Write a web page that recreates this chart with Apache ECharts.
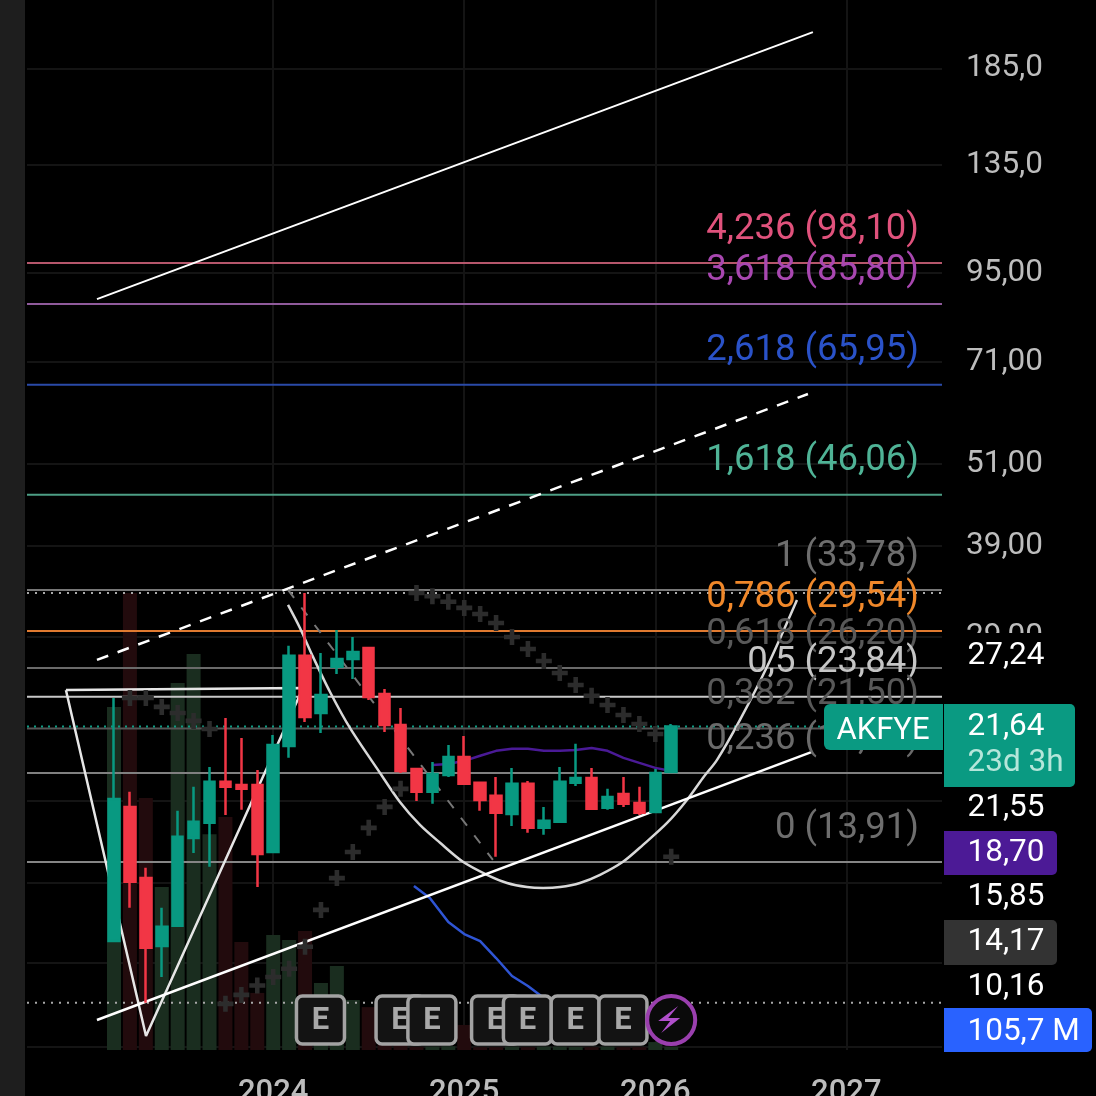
<!DOCTYPE html>
<html>
<head>
<meta charset="utf-8">
<style>html,body{margin:0;padding:0;background:#000;overflow:hidden}#c{width:1096px;height:1096px}</style>
<script src="https://cdn.jsdelivr.net/npm/echarts@6/dist/echarts.min.js"></script>
</head>
<body>
<div id="c"></div>
<script>
// Month index 0 = March 2023. Each row: open, close, low, high
const candles = [
[10.75,17.09,10.75,23.75],[16.65,13.04,11.98,17.5],[13.2,10.52,8.79,13.65],[10.58,11.26,9.56,11.98],
[11.3,15.1,11.3,16.44],[15.05,15.86,14.33,17.78],[15.81,18.07,13.7,18.97],[18.07,17.78,16.22,22.25],
[17.89,17.66,16.49,20.85],[17.89,14.28,12.82,18.78],[14.37,20.38,14.37,21.05],[20.31,27.25,19.54,28.15],
[27.25,22.32,21.97,33.45],[22.62,23.98,21.19,27.51],[26.29,26.98,25.69,29.65],[26.98,27.6,25.27,28.98],
[27.96,23.83,23.6,28.05],[24.07,21.75,21.26,24.46],[21.75,18.72,18.6,22.99],[18.84,17.49,16.98,18.84],
[17.49,18.54,16.82,19.28],[18.48,19.6,18.36,20.38],[19.6,17.95,17.95,20.98],[18.01,17.03,16.44,18.01],
[17.26,16.33,14.15,18.36],[16.27,17.95,15.65,18.91],[17.95,15.55,15.31,18.12],[15.55,15.91,15.2,16.65],
[15.86,18.07,15.86,18.97],[18.01,18.3,17.83,20.45],[18.3,16.55,16.55,18.91],[16.6,17.2,16.49,17.66],
[17.37,16.82,16.65,18.36],[16.87,16.33,16.22,17.78],[16.38,18.6,16.38,18.84],[18.66,21.64,18.66,21.82]
];
const volumes = [12080,16090,8870,5740,12920,13940,7600,8200,3800,2010,4050,3870,4190,2360,2960,1760,1510,460,350,110,120,130,880,100,100,120,100,120,120,110,100,120,100,100,280,105.7];
const volumeMA = [[18.84,5773],[19.84,5350],[21,4506],[22,4083],[23,3837],[24,3238],[25,2605],[26,2253],[27,1830]];
const sarA = [[1,23.75],[2,23.75],[3,23.07],[4,22.62],[5,22.04],[6,21.47]];
const sarB = [[7,8.76],[8,9.02],[9,9.3],[10,9.56],[11,9.82],[12,10.55],[13,11.9],[14,13.2],[15,14.37],[16,15.55],[17,16.65],[18,17.66]];
const sarC = [[19,33.45],[20,33.1],[21,32.5],[22,31.86],[23,31.24],[24,30.33],[25,28.98],[26,27.87],[27,26.8],[28,25.77],[29,24.78],[30,23.92],[31,23.21],[32,22.47],[33,21.82],[34,21.12],[35,14.15]];
const maLine = [[20,19.09],[21,19.15],[22,19.35],[23,19.67],[24,19.99],[25,20.12],[26,20.12],[27,19.99],[28,19.99],[29,20.05],[30,20.18],[31,19.99],[32,19.54],[33,19.22],[34,18.91],[35,18.72]];
const cupCurve = [[10.93,32.17],[11.68,29.84],[12.5,27.16],[13.57,24.22],[14.82,21.54],[16.71,18.6],[17.96,16.92],[19.22,15.7],[20.48,14.81],[21.92,13.92],[23.43,13.34],[24.69,12.99],[25.94,12.82],[26.95,12.78],[28.02,12.82],[29.27,12.99],[30.53,13.34],[31.97,13.92],[33.23,14.71],[34.74,15.8],[35.99,17.03],[36.99,18.3],[37.88,19.41],[39.32,22.11],[41.02,26.29],[42.9,32.7]];
const patternV = [[-3.02,24.38],[2.01,7.89],[11.87,24.54],[-3.02,24.38]];
const channelTop = [[-1.07,87.2],[43.9,208.3]];
const channelMid = [[-1.07,26.89],[43.59,64.0]];
const channelLow = [[-1.07,8.31],[43.84,19.92]];
const fibTrend = [[10.93,33.78],[23.8,14.01]];
const fibLevels = [
 ['4,236',98.10,'98,10','#e0527c','#b5566b'],
 ['3,618',85.80,'85,80','#a847b0','#8f5a9b'],
 ['2,618',65.95,'65,95','#2a52c8','#2a4aa8'],
 ['1,618',46.06,'46,06','#4fb396','#4c9e85'],
 ['1',33.78,'33,78','#6e6e6e','#777777'],
 ['0,786',29.54,'29,54','#f0882a','#e07a30'],
 ['0,618',26.20,'26,20','#585858','#6a6a6a'],
 ['0,5',23.84,'23,84','#c6c6c6','#c8c8c8'],
 ['0,382',21.50,'21,50','#585858','#555555'],
 ['0,236',18.60,'18,60','#6a6a6a','#808080'],
 ['0',13.91,'13,91','#6e6e6e','#858585']
];
const highLow = [33.45,8.79];
const lastPrice = 21.64;
const earningsMonths = [13,18,20,24,26,29,32];
const dividendMonths = [35];
const yearTicks = [10,22,34,46];
const yearLabels = {10:'2024',22:'2025',34:'2026',46:'2027'};
const priceTicks = [185,135,95,71,51,39,29];
const priceTickLabels = {185:'185,0',135:'135,0',95:'95,00',71:'71,00',51:'51,00',39:'39,00',29:'29,00'};
const faintGrid = [185,135,95,71,51,39,29,17,13,10.02,7.62];

const xMin = -5.465, xMax = 52.01;
const F = 'Roboto, sans-serif';

function line(data, color, width, extra) {
  return Object.assign({type:'line', data, symbol:'none', silent:true, animation:false, z:3,
    lineStyle:{color, width}}, extra || {});
}
function hline(v, color, width, type) {
  const s = line([[xMin,v],[xMax,v]], color, width, {z:2});
  if (type) s.lineStyle.type = type;
  return s;
}
const plusPath = 'path://M5 0h4v5h5v4H9v5H5V9H0V5h5z';
function crosses(data){
  return {type:'scatter', data, symbol:plusPath, symbolSize:16, silent:true, animation:false, z:3,
    itemStyle:{color:'#2c2c2c', opacity:1}};
}

function tag(x,y,w,h,fill,r){
  return {type:'rect', z:100, shape:{x,y,width:w,height:h,r}, style:{fill}};
}
function txt(text,x,y,fill,size,align){
  return {type:'text', z:101, style:{text,x,y,fill,font:'400 '+(size||31.5)+'px '+F,align:align||'left',verticalAlign:'middle'}};
}

const option = {
  backgroundColor:'#000',
  animation:false,
  grid:{left:27, top:0, width:915, height:1050, containLabel:false, outerBoundsMode:'none'},
  xAxis:{type:'value', min:xMin, max:xMax,
    axisLine:{show:false},
    axisTick:{show:false, customValues:yearTicks},
    splitLine:{show:true, lineStyle:{color:'#141414', width:2}},
    axisLabel:{customValues:yearTicks, color:'#bcbcbc', fontFamily:F, fontSize:31, fontWeight:500, margin:28,
      verticalAlign:'top', formatter:v=>yearLabels[v]||''}
  },
  yAxis:[
    {type:'log', logBase:10, min:7.536, max:231.3, position:'right',
     axisLine:{show:false},
     axisTick:{show:false, customValues:faintGrid},
     splitLine:{show:true, lineStyle:{color:'#141414', width:2}},
     minorSplitLine:{show:false},
     axisLabel:{customValues:priceTicks, color:'#bdbdbd', fontFamily:F, fontSize:31.5, margin:24, align:'left',
       verticalAlign:'middle', padding:[2,0,0,0], formatter:v=>priceTickLabels[v]||''}
    },
    {type:'value', min:0, max:36972, show:false, splitLine:{show:false}}
  ],
  graphic:[
    {type:'rect', z:100, shape:{x:0,y:0,width:25,height:1096}, style:{fill:'#1e1e1e'}},
    tag(945,633,151,44,'#000',0),
    txt('27,24',967.5,656,'#ffffff'),
    tag(824,704,119,46,'#0a9a82',[6,0,0,6]),
    txt('AKFYE',883,731,'#ffffff',31,'center'),
    tag(944,704,131,83,'#0a9a82',[0,5,5,0]),
    txt('21,64',967.5,727,'#ffffff'),
    txt('23d 3h',967.5,763,'#b5e6da'),
    txt('21,55',967.5,808,'#ffffff'),
    tag(944,831,113,44,'#4c1a96',[0,5,5,0]),
    txt('18,70',967.5,853,'#ffffff'),
    txt('15,85',967.5,897,'#ffffff'),
    tag(944,920,113,45,'#333333',[0,5,5,0]),
    txt('14,17',967.5,942,'#ffffff'),
    txt('10,16',967.5,987,'#ffffff'),
    tag(944,1008,148,44,'#2962ff',[0,5,5,0]),
    txt('105,7 M',967.5,1032,'#ffffff')
  ],
  series:[
    {type:'bar', yAxisIndex:1, barWidth:14, silent:true, animation:false, z:1,
     data:volumes.map((v,i)=>({value:[i,v], itemStyle:{color:candles[i][1]>=candles[i][0]?'#1a2d1f':'#220b0d'}}))},
    ...fibLevels.map(f=>hline(f[1], f[4], 2)),
    hline(highLow[0], '#a8a8a8', 2, [2,6]),
    hline(highLow[1], '#a8a8a8', 2, [2,6]),
    hline(lastPrice, '#0f9a82', 2, [2,5]),
    line(volumeMA, '#2f55d4', 2.5, {yAxisIndex:1}),
    line(patternV, '#e6e6e6', 2.5),
    line(cupCurve, '#d8d8d8', 2.5, {smooth:0.3}),
    line(channelTop, '#ffffff', 2),
    line(channelLow, '#ffffff', 2.5),
    line(channelMid, '#ffffff', 2.5, {lineStyle:{color:'#ffffff',width:2.5,type:[12,10]}}),
    line(fibTrend, '#777777', 2, {lineStyle:{color:'#777777',width:2,type:[10,12]}}),
    crosses(sarA), crosses(sarB), crosses(sarC),
    {type:'candlestick', silent:true, animation:false, z:4, barWidth:11,
     data:candles.map((c,i)=>[i,c[0],c[1],c[2],c[3]]),
     itemStyle:{color:'#089981',color0:'#f23645',borderColor:'#089981',borderColor0:'#f23645',borderWidth:2.5}},
    line(maLine, '#4a1a96', 2.5, {z:4}),
    {type:'scatter', symbolSize:0, silent:true, animation:false, z:6,
     itemStyle:{opacity:1},
     data:fibLevels.map(f=>({value:[50.56,f[1]],
       label:{show:true, position:'left', distance:0, offset:[0,-33.5], color:f[3], fontFamily:F, fontSize:36.5,
         formatter:f[0]+' ('+f[2]+')'}}))},
    {type:'custom', silent:true, animation:false, z:7, clip:false,
     data:earningsMonths.map(m=>[m,8.31]),
     renderItem:(p,api)=>{
       const c=api.coord([api.value(0),api.value(1)]);
       return {type:'group',children:[
         {type:'rect',shape:{x:c[0]-24.5,y:c[1]-24,width:48,height:48,r:6},style:{fill:'#131313',stroke:'#a3a3a3',lineWidth:3.5}},
         {type:'text',style:{text:'E',x:c[0]-0.5,y:c[1]+1,align:'center',verticalAlign:'middle',fill:'#a8a8a8',font:'700 31px '+F}}
       ]};
     }},
    {type:'custom', silent:true, animation:false, z:8, clip:false,
     data:dividendMonths.map(m=>[m,8.31]),
     renderItem:(p,api)=>{
       const c=api.coord([api.value(0),api.value(1)]);
       const b=[[7,-14],[-13,1],[-1,1],[-10,13],[9,-2],[-3,-2]].map(q=>[c[0]+q[0],c[1]+q[1]]);
       return {type:'group',children:[
         {type:'circle',shape:{cx:c[0],cy:c[1],r:24},style:{fill:'#0a0a0a',stroke:'#9a3fae',lineWidth:4}},
         {type:'polygon',shape:{points:b},style:{fill:'#b04fcb'}}
       ]};
     }}
  ]
};
echarts.init(document.getElementById('c')).setOption(option);
</script>
</body>
</html>
